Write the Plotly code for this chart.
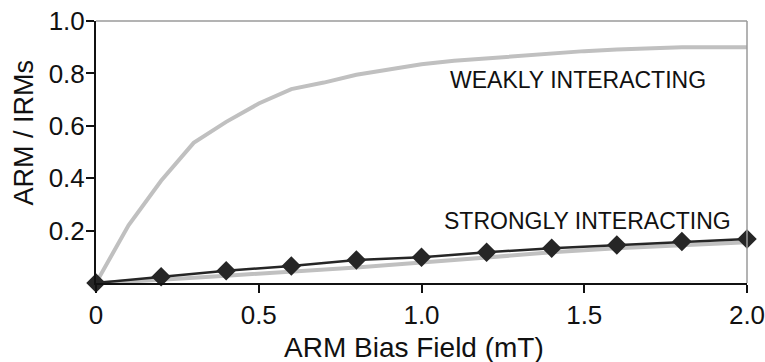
import plotly.graph_objects as go

# ARM bias field (mT) sampling for the two curves
field_weak = [0.0, 0.1, 0.2, 0.3, 0.4, 0.5, 0.6, 0.7, 0.8, 0.9, 1.0,
              1.1, 1.2, 1.3, 1.4, 1.5, 1.6, 1.7, 1.8, 1.9, 2.0]
arm_weak = [0.0, 0.22, 0.39, 0.535, 0.615, 0.685, 0.74, 0.765, 0.795, 0.815, 0.835,
            0.848, 0.858, 0.868, 0.877, 0.885, 0.891, 0.897, 0.90, 0.90, 0.90]

field_strong = [0.0, 0.2, 0.4, 0.6, 0.8, 1.0, 1.2, 1.4, 1.6, 1.8, 2.0]
arm_strong_model = [0.0, 0.012, 0.028, 0.043, 0.059, 0.078, 0.098, 0.117, 0.133, 0.145, 0.156]
arm_strong_meas = [0.0, 0.024, 0.047, 0.065, 0.088, 0.098, 0.117, 0.133, 0.145, 0.158, 0.168]

x_tickvals = [0, 0.5, 1.0, 1.5, 2.0]
x_ticktext = ["0", "0.5", "1.0", "1.5", "2.0"]
y_tickvals = [0.2, 0.4, 0.6, 0.8, 1.0]
y_ticktext = ["0.2", "0.4", "0.6", "0.8", "1.0"]

FONT = "Liberation Sans, Arial, Helvetica, sans-serif"
GRAY = "#c0c0c0"
DARK = "#262626"
INK = "#111111"

# figure and plot-area geometry in pixels
L, R, T, B, W, H = 96, 18, 21, 79, 765, 362
pw, ph = W - L - R, H - T - B

fig = go.Figure()

fig.add_trace(go.Scatter(
    x=field_weak, y=arm_weak, mode="lines",
    line=dict(color=GRAY, width=4), cliponaxis=False, hoverinfo="skip"))

fig.add_trace(go.Scatter(
    x=field_strong, y=arm_strong_model, mode="lines",
    line=dict(color=GRAY, width=4), cliponaxis=False, hoverinfo="skip"))

fig.add_trace(go.Scatter(
    x=field_strong, y=arm_strong_meas, mode="lines+markers",
    line=dict(color=DARK, width=2.5),
    marker=dict(symbol="diamond", size=15, color=DARK),
    cliponaxis=False))

# thin gray frame on the top and right sides
fig.add_shape(type="line", xref="paper", yref="paper", x0=0, x1=1, y0=1, y1=1,
              line=dict(color="#9a9a9a", width=1.5))
fig.add_shape(type="line", xref="paper", yref="paper", x0=1, x1=1, y0=0, y1=1,
              line=dict(color="#9a9a9a", width=1.5))

fig.add_annotation(x=1.48, y=0.775, xref="x", yref="y", text="WEAKLY INTERACTING",
                   showarrow=False, font=dict(family=FONT, size=23, color=INK))
fig.add_annotation(x=1.51, y=0.235, xref="x", yref="y", text="STRONGLY INTERACTING",
                   showarrow=False, font=dict(family=FONT, size=23, color=INK))

# axis titles, positioned relative to the plot area
fig.add_annotation(x=(414 - L) / pw, y=-(347 - (H - B)) / ph, xref="paper", yref="paper",
                   text="ARM Bias Field (mT)", showarrow=False,
                   xanchor="center", yanchor="middle",
                   font=dict(family=FONT, size=28, color=INK))
fig.add_annotation(x=-(L - 24) / pw, y=0.574, xref="paper", yref="paper",
                   text="ARM / IRMs", textangle=-90, showarrow=False,
                   xanchor="center", yanchor="middle",
                   font=dict(family=FONT, size=27, color=INK))

fig.update_layout(
    width=W, height=H,
    margin=dict(l=L, r=R, t=T, b=B, autoexpand=False),
    paper_bgcolor="white", plot_bgcolor="white",
    showlegend=False,
    font=dict(family=FONT, color=INK),
    xaxis=dict(
        range=[0, 2], tickvals=x_tickvals, ticktext=x_ticktext,
        showgrid=False, zeroline=False, automargin=False,
        showline=True, linecolor=INK, linewidth=2,
        ticks="outside", ticklen=8, tickwidth=2, tickcolor=INK,
        tickfont=dict(family=FONT, size=26, color=INK),
        ticklabeloverflow="allow",
    ),
    yaxis=dict(
        range=[0, 1], tickvals=y_tickvals, ticktext=y_ticktext,
        showgrid=False, zeroline=False, automargin=False,
        showline=True, linecolor=INK, linewidth=2,
        ticks="outside", ticklen=8, tickwidth=2, tickcolor=INK,
        tickfont=dict(family=FONT, size=26, color=INK),
        ticklabelstandoff=-4,
    ),
)

fig.write_html("out.html")
